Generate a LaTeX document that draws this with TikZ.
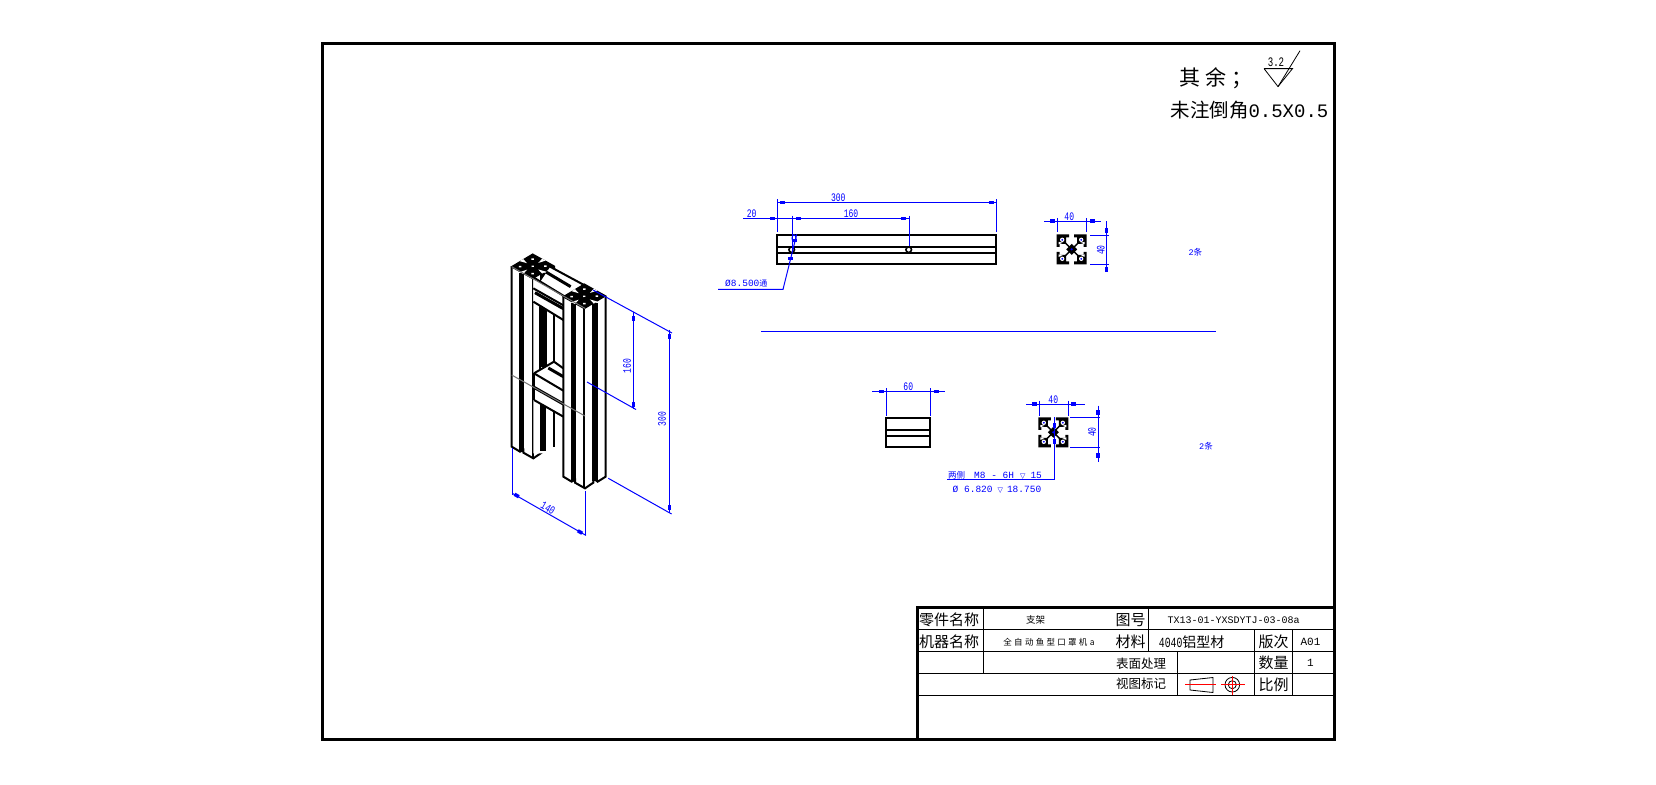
\documentclass[tikz,border=0pt]{standalone}
\usepackage{fontspec}
\usepackage{xcolor}
\newfontfamily\cjkfont{Noto Sans CJK SC}
\newfontfamily\cjkwide[LetterSpace=27]{Noto Sans CJK SC}
\newfontfamily\monofont{Liberation Mono}
\newfontfamily\dimfont[FakeStretch=0.7]{Liberation Mono}
\newfontfamily\symfont{DejaVu Sans}
\definecolor{DimCol}{RGB}{0,0,255}
\definecolor{AxisCol}{RGB}{255,0,0}
\tikzstyle{Frame}=[draw=black,line width=3pt]
\tikzstyle{Thin}=[draw=black,line width=1pt]
\tikzstyle{Part}=[draw=black,line width=2pt,line join=miter]
\tikzstyle{Dim}=[draw=DimCol,line width=1pt]
\tikzstyle{Tick}=[fill=DimCol,minimum width=5pt,minimum height=3.5pt,inner sep=0pt]
\tikzstyle{DimText}=[text=DimCol,inner sep=0pt,font=\dimfont\fontsize{11.5}{12}\selectfont]
\tikzstyle{NoteText}=[text=DimCol,inner sep=0pt,anchor=west,font=\monofont\fontsize{9.5}{10}\selectfont]
\tikzstyle{Cell}=[inner sep=0pt,font=\cjkfont\fontsize{15}{15}\selectfont]
\tikzstyle{CellSmall}=[inner sep=0pt,font=\cjkfont\fontsize{12.5}{13}\selectfont]
\newcommand{\DepthMark}{{\symfont\fontsize{7}{7}\selectfont ▽}}
\newcommand{\ProfileCut}{%
    \fill[white](-15,-15)rectangle(15,15);
    \foreach \sx/\sy in {1/1,1/-1,-1/1,-1/-1}{
        \fill[black]({\sx*15},{\sy*15})--({\sx*15},{\sy*2.5})--({\sx*12},{\sy*2.5})
            --({\sx*12},{\sy*5.5})--({\sx*5.5},{\sy*5.5})--({\sx*5.5},{\sy*12})
            --({\sx*2.5},{\sy*12})--({\sx*2.5},{\sy*15})--cycle;
        \draw[black,line width=1.4pt]({\sx*8},{\sy*8})--({\sx*2},{\sy*2});
        \fill[white]({\sx*9.5},{\sy*9.5})circle(2.2);
        \fill[DimCol]({\sx*9.5},{\sy*9.5})circle(1);
        \fill[white]({\sx*13},{\sy*5})--({\sx*9},{\sy*6.5})--({\sx*13},{\sy*7.5})--cycle;
    }
    \fill[black](-5.5,0)--(0,-5.5)--(5.5,0)--(0,5.5)--cycle;
    \fill[DimCol](0,0)circle(1.2);
}
\newcommand{\IsoCap}{%
    \fill[black](-16,-16)--(16,-16)--(16,16)--(-16,16)--cycle;
    \foreach \sx/\sy in {1/1,1/-1,-1/1,-1/-1}{
        \fill[white]({\sx*9},{\sy*9})circle(1.8);
    }
    \foreach \sx in {1,-1}{
        \fill[white]({\sx*16},-2.5)--({\sx*8},0)--({\sx*16},2.5)--cycle;
        \fill[white](-2.5,{\sx*16})--(0,{\sx*8})--(2.5,{\sx*16})--cycle;
    }
    \fill[white](0,0)circle(1.6);
}
\newcommand{\IsoColumn}{%
    \fill[white](155,110)--(155,650)--(180,665)--(190,660)--(190,668)--(220,685)
        --(245,668)--(245,655)--(258,665)--(282,650)--(282,108)--(218,72)--cycle;
    \fill[black](178,128)rectangle(192,662);
    \fill[black](240,128)rectangle(258,664);
    \draw[Part](155,110)--(155,650)--(180,665)--(190,660)--(190,668)--(220,685)
        --(245,668)--(245,655)--(258,665)--(282,650)--(282,108);
    \draw[Part](218,145)--(218,685);
    \begin{scope}[shift={(218,109)},x={(.7pt,-.39pt)},y={(.7pt,.42pt)}]
        \IsoCap
    \end{scope}
}
\begin{document}
\begin{tikzpicture}[x=1pt,y=-1pt]
    \useasboundingbox(0,0)rectangle(1656,784);
    \fill[white](0,0)rectangle(1656,784);
    % drawing frame
    \draw[Frame](322,44)rectangle(1334,739);
    % title block
    \draw[Frame](917.3,739)--(917.3,607.3)--(1334,607.3);
    \draw[Thin](917.3,629.3)--(1334,629.3);
    \draw[Thin](917.3,651.3)--(1334,651.3);
    \draw[Thin](917.3,673.3)--(1334,673.3);
    \draw[Thin](917.3,695.3)--(1334,695.3);
    \draw[Thin](983.3,607.3)--(983.3,673.3);
    \draw[Thin](1148.5,607.3)--(1148.5,651.3);
    \draw[Thin](1177.5,651.3)--(1177.5,695.3);
    \draw[Thin](1254.3,629.3)--(1254.3,695.3);
    \draw[Thin](1292.5,629.3)--(1292.5,695.3);
    \node[Cell](name1)at(949,620){零件名称};
    \node[Cell](name2)at(949,642){机器名称};
    \node[Cell](name3)at(1130.5,620){图号};
    \node[Cell](name4)at(1130.5,642){材料};
    \node[Cell](name5)at(1273.5,641.5){版次};
    \node[Cell](name6)at(1273.5,662.5){数量};
    \node[Cell](name7)at(1273.5,684.5){比例};
    \node[CellSmall](name8)at(1141,663.5){表面处理};
    \node[CellSmall](name9)at(1141,684){视图标记};
    \node[inner sep=0pt,font=\cjkfont\fontsize{9.5}{10}\selectfont](part)at(1035.7,620){支架};
    \node[inner sep=0pt,font=\cjkwide\fontsize{8.5}{10}\selectfont](machine)at(1049,642.3){全自动鱼型口罩机a};
    \node[inner sep=0pt,font=\monofont\fontsize{10}{10}\selectfont](drawno)at(1233.5,620){TX13-01-YXSDYTJ-03-08a};
    \node[Cell,font=\cjkfont\fontsize{14}{14}\selectfont](stock)at(1191.7,642){{\dimfont 4040}铝型材};
    \node[inner sep=0pt,font=\monofont\fontsize{11}{11}\selectfont](rev)at(1310.5,641.5){A01};
    \node[inner sep=0pt,font=\monofont\fontsize{11}{11}\selectfont](qty)at(1310.5,662.5){1};
    % projection symbol
    \draw[black,line width=.8pt](1190,680)--(1213,677.5)--(1213,692.5)--(1190,690)--cycle;
    \draw[black,line width=.8pt](1232.3,684.7)circle(7.3);
    \draw[black,line width=.8pt](1232.3,684.7)circle(4);
    \draw[AxisCol,line width=.8pt](1185,684.7)--(1216,684.7);
    \draw[AxisCol,line width=.8pt](1221,684.7)--(1245,684.7);
    \draw[AxisCol,line width=.8pt](1232.3,676)--(1232.3,694.7);
    % notes
    \node[inner sep=0pt,anchor=west,font=\cjkfont\fontsize{21}{21}\selectfont](other)at(1179,78){其\hspace{5pt}余\hspace{5pt}；};
    \node[inner sep=0pt,anchor=east,font=\cjkfont\fontsize{19.5}{20}\selectfont](chamfer)at(1328.5,110){未注倒角{\monofont\fontsize{19}{20}\selectfont 0.5X0.5}};
    \node[inner sep=0pt,font=\dimfont\fontsize{13}{13}\selectfont](rough)at(1276,62){3.2};
    \draw[black,line width=.8pt](1264,68.6)--(1292.5,68.6)--(1278,86.6)--(1264,68.6);
    \draw[black,line width=.8pt](1278,86.6)--(1300,50.7);
    % isometric view
    \begin{scope}[shift={(460,230)},x=.33333pt,y=-.33333pt]
        \IsoColumn
        % window between the columns
        \fill[white](220,150)--(310,200)--(310,560)--(220,510)--cycle;
        \fill[black](240,232)rectangle(258,410);
        \draw[Part](282,245)--(282,397);
        \draw[Part](258,235)--(258,405);
        \draw[Part](240,225)--(240,420);
        \fill[white](220,510)--(310,560)--(310,670)--(220,670)--cycle;
        \fill[black](240,515)rectangle(258,664);
        \draw[Part](282,535)--(282,650);
        % upper beam
        \fill[white](270,112)--(385,170)--(315,205)--(240,157)--cycle;
        \fill[white](220,145)--(310,200)--(310,272)--(220,217)--cycle;
        \draw[Part](270,110)--(385,172);
        \draw[Part](220,142)--(315,200);
        \draw[black,line width=3pt](258,126)--(332,170);
        \draw[Part](220,175)--(310,226);
        \draw[black,line width=3pt](225,188)--(310,236);
        \draw[Part](220,215)--(310,270);
        % lower beam
        \fill[white](222,430)--(282,395)--(310,415)--(310,560)--(222,510)--cycle;
        \draw[Part](222,430)--(282,395)--(310,415);
        \draw[black,line width=3pt](265,414)--(310,440);
        \draw[Part](222,430)--(310,482);
        \draw[black,line width=3pt](222,472)--(310,522);
        \draw[Part](222,510)--(310,560);
        \draw[Part](222,430)--(222,510);
        \begin{scope}[shift={(155,90)}]
            \IsoColumn
        \end{scope}
        \draw[draw=black!55,line width=1pt](155,110)--(375,235);
        \draw[draw=black!55,line width=1pt](155,435)--(375,558);
    \end{scope}
    % isometric dimensions
    \draw[Dim](593,290)--(672,333);
    \draw[Dim](587,382)--(636,409.5);
    \draw[Dim](608.3,478.3)--(671.6,514);
    \draw[Dim](633.3,311.7)--(633.3,409);
    \draw[Dim](669.5,329.5)--(669.5,513);
    \draw[Dim](512.3,448)--(512.3,495);
    \draw[Dim](585.3,491)--(585.3,535);
    \draw[Dim](512.3,493.3)--(586,535.4);
    \node[Tick,rotate=90](t1)at(633.3,318){};
    \node[Tick,rotate=90](t2)at(633.3,404){};
    \node[Tick,rotate=90](t3)at(669.5,336){};
    \node[Tick,rotate=90](t4)at(669.5,507){};
    \node[Tick,rotate=-30](t5)at(516.7,495.5){};
    \node[Tick,rotate=-30](t6)at(580,532){};
    \node[DimText,rotate=90](d1)at(627,366){160};
    \node[DimText,rotate=90](d2)at(662,419){300};
    \node[DimText,rotate=-30](d3)at(548,508){140};
    % upper front view
    \draw[Part](776.7,235)rectangle(996,264);
    \draw[Part](776.7,246.7)--(996,246.7);
    \draw[Part](776.7,252.7)--(996,252.7);
    \draw[black,line width=1.6pt,fill=white](791.7,249.7)circle(2.8);
    \draw[black,line width=1.6pt,fill=white](908.7,249.7)circle(2.8);
    \draw[Dim](777.3,199)--(777.3,231.7);
    \draw[Dim](996,199)--(996,231.7);
    \draw[Dim](777.3,202.3)--(996,202.3);
    \draw[Dim](743.3,218.3)--(909.3,218.3);
    \draw[Dim](792.3,215.7)--(792.3,250);
    \draw[Dim](909.3,215.7)--(909.3,246);
    \draw[Dim](796.7,234.3)--(783,289.4)--(718,289.4);
    \draw[Dim](794,238.3)ellipse(2 and 3.5);
    \node[Tick](t7)at(782.7,202.3){};
    \node[Tick](t8)at(991,202.3){};
    \node[Tick](t9)at(772,218.3){};
    \node[Tick](t10)at(798,218.3){};
    \node[Tick](t11)at(903.3,218.3){};
    \node[Tick](t12)at(794,240.5){};
    \node[Tick](t13)at(790,258.3){};
    \node[DimText](d4)at(838.3,197.7){300};
    \node[DimText](d5)at(851,213.7){160};
    \node[DimText](d6)at(751.7,213.7){20};
    \node[NoteText](d7)at(725,283.5){Ø8.500{\cjkfont\fontsize{8}{8}\selectfont 通}};
    % upper section
    \begin{scope}[shift={(1071.7,249.3)}]
        \ProfileCut
    \end{scope}
    \draw[Dim](1044,221)--(1100.7,221);
    \draw[Dim](1057.3,218.3)--(1057.3,231.7);
    \draw[Dim](1086.3,218.3)--(1086.3,231.7);
    \draw[Dim](1106.7,221)--(1106.7,270);
    \draw[Dim](1090,235)--(1108.5,235);
    \draw[Dim](1090,264.3)--(1108.5,264.3);
    \node[Tick](t14)at(1052,221){};
    \node[Tick](t15)at(1092.7,221){};
    \node[Tick,rotate=90](t16)at(1106.7,230){};
    \node[Tick,rotate=90](t17)at(1106.7,269){};
    \node[DimText](d8)at(1069.3,216.7){40};
    \node[DimText,rotate=90](d9)at(1100.7,250){40};
    \node[DimText,font=\cjkfont\fontsize{8.5}{9}\selectfont](d10)at(1195.4,252.4){{\monofont 2}条};
    % divider
    \draw[Dim](761.4,331.6)--(1215.5,331.6);
    % lower front view
    \draw[Part](886,418)rectangle(930.3,447);
    \draw[Part](886,430)--(930.3,430);
    \draw[Part](886,436)--(930.3,436);
    \draw[Dim](872,391.3)--(945,391.3);
    \draw[Dim](886.3,388)--(886.3,416);
    \draw[Dim](930.3,388)--(930.3,416);
    \node[Tick](t18)at(881,391.3){};
    \node[Tick](t19)at(936,391.3){};
    \node[DimText](d11)at(908.3,386.7){60};
    % lower section
    \begin{scope}[shift={(1053.3,432.3)}]
        \ProfileCut
    \end{scope}
    \draw[Dim](1026,404)--(1084.5,404);
    \draw[Dim](1039.7,400.7)--(1039.7,416);
    \draw[Dim](1068,400.7)--(1068,416);
    \draw[Dim](1098,405.5)--(1098,461.5);
    \draw[Dim](1070,417.5)--(1100,417.5);
    \draw[Dim](1070,447)--(1100,447);
    \draw[Dim](1054.3,417)--(1054.3,479.5)--(947,479.5);
    \node[Tick](t20)at(1034,404){};
    \node[Tick](t21)at(1073,404){};
    \node[Tick,rotate=90](t22)at(1098,412.5){};
    \node[Tick,rotate=90](t23)at(1098,455){};
    \node[Tick,rotate=90](t24)at(1054.3,425){};
    \node[Tick,rotate=90](t25)at(1054.3,441.7){};
    \node[DimText](d12)at(1053.3,400){40};
    \node[DimText,rotate=90](d13)at(1092,432){40};
    \node[NoteText](d14)at(948,475.5){{\cjkfont\fontsize{8.5}{9}\selectfont 两侧}\hspace{9pt}M8 - 6H\hspace{6pt}\DepthMark\hspace{5pt}15};
    \node[NoteText](d15)at(952.5,490){Ø 6.820\hspace{5pt}\DepthMark\hspace{4pt}18.750};
    \node[DimText,font=\cjkfont\fontsize{8.5}{9}\selectfont](d16)at(1206,446.7){{\monofont 2}条};
\end{tikzpicture}
\end{document}
